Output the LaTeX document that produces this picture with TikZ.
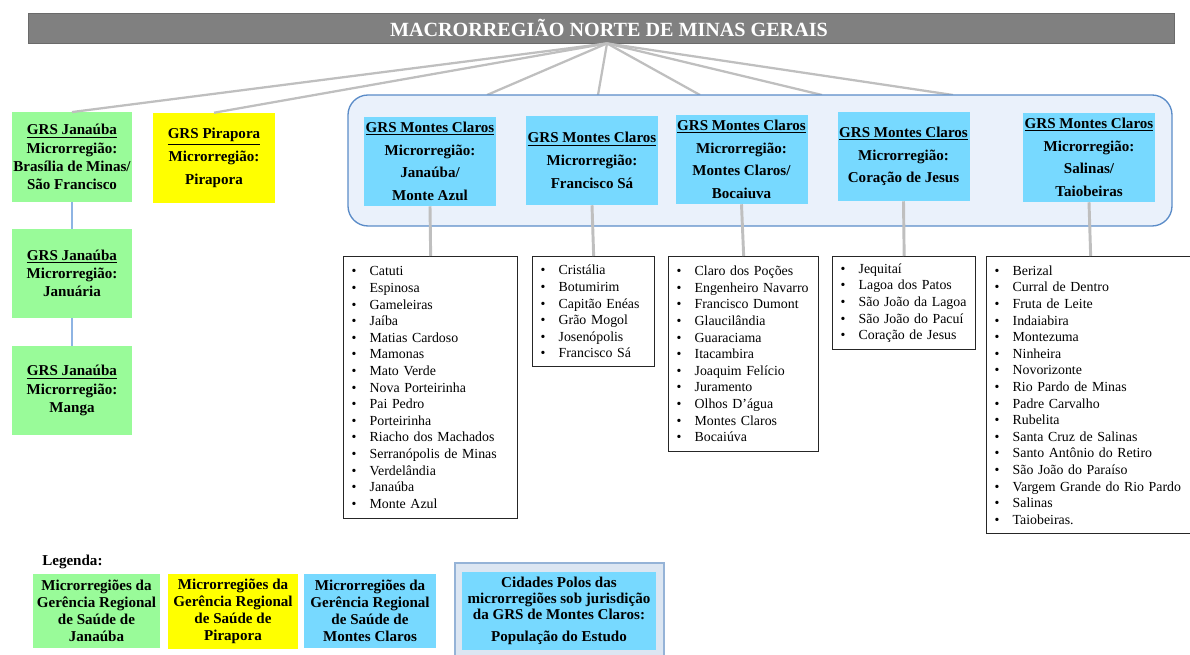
\documentclass[tikz,border=0pt]{standalone}
\usepackage{fontspec}
\setmainfont{Liberation Serif}
\definecolor{titlegray}{HTML}{808080}
\definecolor{titleedge}{HTML}{6A6A6A}
\definecolor{lgreen}{HTML}{99FB99}
\definecolor{lyellow}{HTML}{FFFF00}
\definecolor{lcyan}{HTML}{77D9FF}
\definecolor{bigfill}{HTML}{EAF1FB}
\definecolor{bigedge}{HTML}{5B8CC8}
\definecolor{legfill}{HTML}{DCE6F2}
\definecolor{legedge}{HTML}{95B3D7}
\definecolor{conngray}{HTML}{BFBFBF}
\definecolor{connblue}{HTML}{8EB4E3}
\newcommand{\itm}[1]{\makebox[13.5pt][l]{\textbullet}#1\\}
\begin{document}
\begin{tikzpicture}[x=0.75pt,y=-0.75pt,
  boxtxt/.style={inner sep=0pt, align=center, font=\bfseries\fontsize{11.3}{17}\selectfont},
  gbox/.style={boxtxt, fill=lgreen, minimum width=90pt, minimum height=67pt, font=\bfseries\fontsize{11.3}{13.7}\selectfont},
  ybox/.style={boxtxt, fill=lyellow, minimum width=91.5pt, minimum height=67.5pt},
  cbox/.style={boxtxt, fill=lcyan, minimum width=99pt, minimum height=66.75pt},
  legbox/.style={boxtxt, minimum height=55.5pt, font=\bfseries\fontsize{11.3}{12.75}\selectfont},
  listbox/.style={draw=black!85, line width=1pt, anchor=north west, inner xsep=6pt, inner ysep=0pt, align=left, font=\fontsize{10.4}{12.45}\selectfont},
  topconn/.style={draw=conngray, line width=1.7pt},
  downconn/.style={draw=conngray, line width=2.2pt},
  sideconn/.style={draw=connblue, line width=0.8pt}]
\useasboundingbox (0,0) rectangle (1190,655);

% title
\node[fill=titlegray, draw=titleedge, line width=0.6pt, minimum width=859.5pt, minimum height=22.5pt, inner sep=0pt,
  text=white, font=\bfseries\fontsize{15.1}{18}\selectfont] (title) at (601,28) {\hspace*{12pt}MACRORREGIÃO NORTE DE MINAS GERAIS};
\coordinate (apex) at ([xshift=4.5pt]title.south);

% Janaúba / Pirapora
\node[gbox] (g1) at (72,157) {\underline{GRS Janaúba}\\Microrregião:\\Brasília de Minas/\\São Francisco};
\node[ybox] (y1) at (214,158) {\underline{GRS Pirapora}\\Microrregião:\\Pirapora};
\node[gbox, minimum height=66.75pt] (g2) at (72,273.5) {\underline{GRS Janaúba}\\Microrregião:\\Januária};
\node[gbox, minimum height=66.75pt] (g3) at (72,390.5) {\underline{GRS Janaúba}\\Microrregião:\\Manga};
\draw[sideconn] (g1.south) -- (g2.north);
\draw[sideconn] (g2.south) -- (g3.north);

% connectors from title
\coordinate (t1) at (487,95);
\coordinate (t2) at (598,95);
\coordinate (t3) at (700,95);
\coordinate (t4) at (822,95);
\coordinate (t5) at (953,95);
\foreach \t in {g1.north, y1.north, t1, t2, t3, t4, t5}
  \draw[topconn] (apex) -- (\t);

% Montes Claros group
\node[fill=bigfill, draw=bigedge, line width=1pt, rounded corners=15pt, minimum width=618pt, minimum height=98.25pt, inner sep=0pt] (big) at (760,160.5) {};
\node[cbox] (c1) at (430,161.5) {\underline{GRS Montes Claros}\\Microrregião:\\Janaúba/\\Monte Azul};
\node[cbox] (c2) at (592,160.5) {\underline{GRS Montes Claros}\\Microrregião:\\Francisco Sá};
\node[cbox] (c3) at (741.5,159.5) {\underline{GRS Montes Claros}\\Microrregião:\\Montes Claros/\\Bocaiuva};
\node[cbox] (c4) at (903.5,156.5) {\underline{GRS Montes Claros}\\Microrregião:\\Coração de Jesus};
\node[cbox] (c5) at (1089,157.5) {\underline{GRS Montes Claros}\\Microrregião:\\Salinas/\\Taiobeiras};

% lists
\node[listbox, text width=118.5pt, minimum height=196.5pt] (l1) at (343,256) {%
\itm{Catuti}\itm{Espinosa}\itm{Gameleiras}\itm{Jaíba}\itm{Matias Cardoso}\itm{Mamonas}\itm{Mato Verde}\itm{Nova Porteirinha}\itm{Pai Pedro}\itm{Porteirinha}\itm{Riacho dos Machados}\itm{Serranópolis de Minas}\itm{Verdelândia}\itm{Janaúba}\makebox[13.5pt][l]{\textbullet}Monte Azul};
\node[listbox, text width=79.5pt, minimum height=82.5pt] (l2) at (532,256) {%
\itm{Cristália}\itm{Botumirim}\itm{Capitão Enéas}\itm{Grão Mogol}\itm{Josenópolis}\makebox[13.5pt][l]{\textbullet}Francisco Sá};
\node[listbox, text width=100.5pt, minimum height=146pt] (l3) at (668,256) {%
\itm{Claro dos Poções}\itm{Engenheiro Navarro}\itm{Francisco Dumont}\itm{Glaucilândia}\itm{Guaraciama}\itm{Itacambira}\itm{Joaquim Felício}\itm{Juramento}\itm{Olhos D’água}\itm{Montes Claros}\makebox[13.5pt][l]{\textbullet}Bocaiúva};
\node[listbox, text width=95.25pt, minimum height=69.75pt] (l4) at (832,256) {%
\itm{Jequitaí}\itm{Lagoa dos Patos}\itm{São João da Lagoa}\itm{São João do Pacuí}\makebox[13.5pt][l]{\textbullet}Coração de Jesus};
\node[listbox, text width=144pt, minimum height=207.75pt] (l5) at (986,256) {%
\itm{Berizal}\itm{Curral de Dentro}\itm{Fruta de Leite}\itm{Indaiabira}\itm{Montezuma}\itm{Ninheira}\itm{Novorizonte}\itm{Rio Pardo de Minas}\itm{Padre Carvalho}\itm{Rubelita}\itm{Santa Cruz de Salinas}\itm{Santo Antônio do Retiro}\itm{São João do Paraíso}\itm{Vargem Grande do Rio Pardo}\itm{Salinas}\makebox[13.5pt][l]{\textbullet}Taiobeiras.};

\draw[downconn] (c1.south) -- (l1.north);
\draw[downconn] (c2.south) -- (l2.north);
\draw[downconn] (c3.south) -- (l3.north);
\draw[downconn] (c4.south) -- (l4.north);
\draw[downconn] (c5.south) -- (l5.north);

% legend
\node[anchor=west, inner sep=0pt, font=\bfseries\fontsize{11.3}{13}\selectfont] (legtitle) at (42,562) {Legenda:};
\node[legbox, fill=lgreen, minimum width=95.25pt] (lg1) at (96.5,611) {Microrregiões da\\Gerência Regional\\de Saúde de\\Janaúba};
\node[legbox, fill=lyellow, minimum width=97.5pt, minimum height=56.25pt] (lg2) at (233,611.5) {Microrregiões da\\Gerência Regional\\de Saúde de\\Pirapora};
\node[legbox, fill=lcyan, minimum width=99pt] (lg3) at (370,611) {Microrregiões da\\Gerência Regional\\de Saúde de\\Montes Claros};
\node[fill=legfill, draw=legedge, line width=1pt, minimum width=156.75pt, minimum height=74.25pt, inner sep=0pt] (lgbig) at (559.5,612.5) {};
\node[legbox, fill=lcyan, minimum width=145.5pt, minimum height=58.5pt, font=\bfseries\fontsize{11.3}{12}\selectfont] (lg4) at (559,611) {Cidades Polos das\\microrregiões sob jurisdição\\da GRS de Montes Claros:\\[5pt]População do Estudo};
\end{tikzpicture}
\end{document}
